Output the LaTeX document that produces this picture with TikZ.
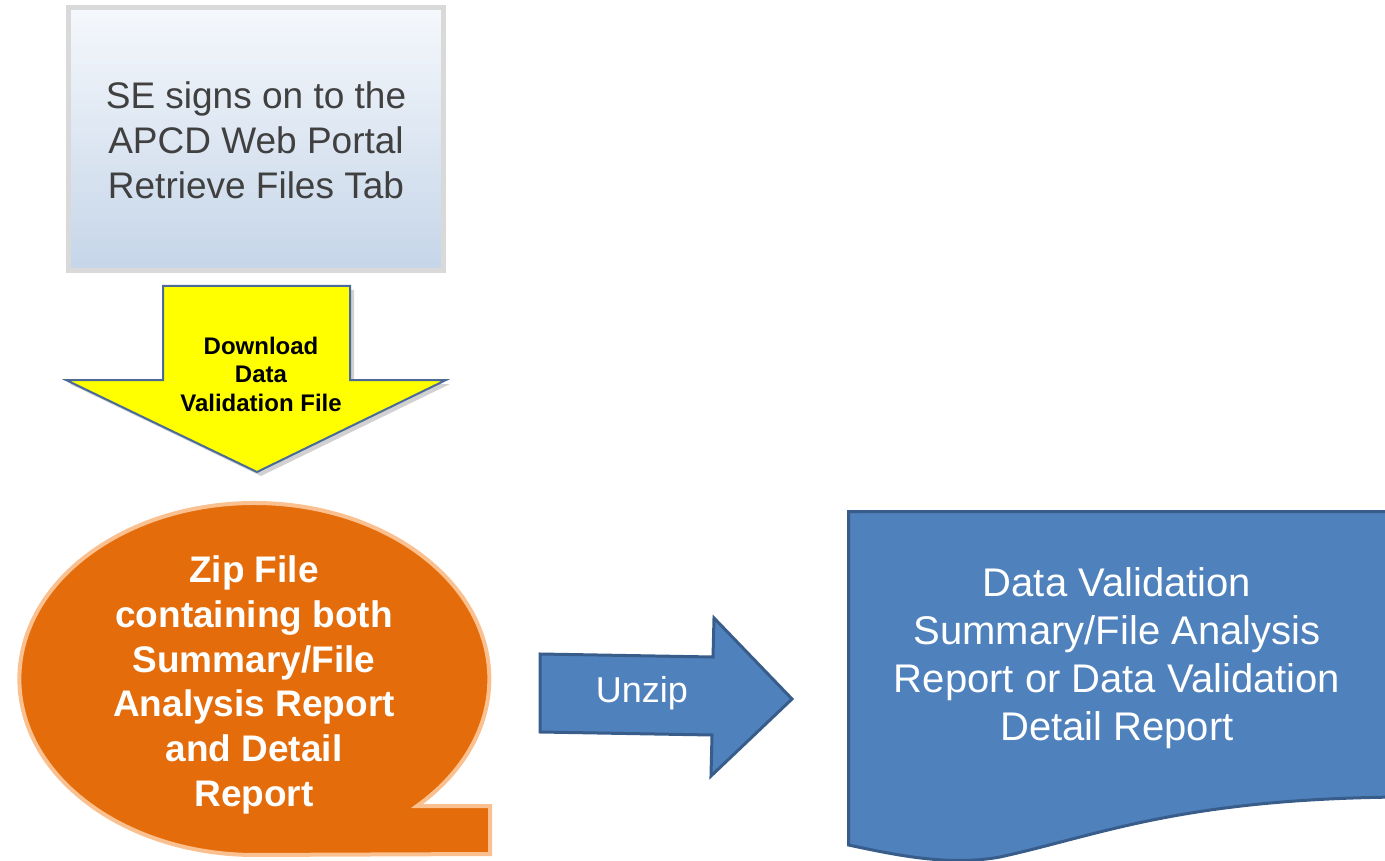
\documentclass[tikz,border=0pt]{standalone}
\usepackage{fontspec}
\setmainfont{Liberation Sans}
\definecolor{boxborder}{HTML}{D9D9D9}
\definecolor{boxtop}{HTML}{F5F8FC}
\definecolor{boxbot}{HTML}{C5D5E8}
\definecolor{textgray}{HTML}{404040}
\definecolor{yfill}{HTML}{FFFF00}
\definecolor{yborder}{HTML}{4A6A98}
\definecolor{zorange}{HTML}{E46C0A}
\definecolor{zborder}{HTML}{FAC08F}
\definecolor{docblue}{HTML}{4F81BD}
\definecolor{docborder}{HTML}{385D8A}
\begin{document}
\begin{tikzpicture}[x=1pt,y=-1pt,
  shadowstyle/.style={fill=black,opacity=0.18},
  label/.style={align=center,inner sep=0pt}]
\useasboundingbox (0,0) rectangle (1385,861);
\clip (0,0) rectangle (1385,861);
% top box
\draw[draw=boxborder,line width=5pt,top color=boxtop,bottom color=boxbot]
  (68.5,7.5) rectangle (443.5,270.5);
\node[label,text=textgray,font=\fontsize{37}{45}\selectfont] (se) at (256,140)
  {SE signs on to the\\APCD Web Portal\\Retrieve Files Tab};
% yellow arrow
\fill[shadowstyle] (167,290) -- (354,290) -- (354,384) -- (450,384) -- (261,476) -- (70,384) -- (167,384) -- cycle;
\draw[fill=yfill,draw=yborder,line width=2pt,line join=miter]
  (163,286) -- (350,286) -- (350,380) -- (446,380) -- (257,472) -- (66,380) -- (163,380) -- cycle;
\node[label,font=\bfseries\fontsize{24}{28.5}\selectfont] (dl) at (261,374)
  {Download\\Data\\Validation File};
% orange callout
\draw[fill=zorange,draw=zborder,line width=4pt,line join=miter]
  (417,806) arc[start angle=46.2,end angle=-270,x radius=235,y radius=176]
  -- (490,854) -- (490,806) -- cycle;
\node[label,text=white,font=\bfseries\fontsize{37}{44.8}\selectfont] (zip) at (254,685)
  {Zip File\\containing both\\Summary/File\\Analysis Report\\and Detail\\Report};
% blue arrow
\draw[fill=docblue,draw=docborder,line width=3pt,line join=miter]
  (540,654) -- (713,657) -- (714,618) -- (792,699) -- (711,776) -- (712,735) -- (540,732) -- cycle;
\node[label,text=white,font=\fontsize{36}{43}\selectfont] (unzip) at (642,693) {Unzip};
% document
\draw[fill=docblue,draw=docborder,line width=3pt,line join=miter]
  (848.5,511.5) -- (1400,511.5) -- (1400,797)
  .. controls (1180,799) and (1100,835) .. (1000,857)
  .. controls (950,866) and (900,856) .. (848.5,845) -- cycle;
\node[label,text=white,font=\fontsize{40}{48}\selectfont] (doc) at (1117,658)
  {Data Validation\\Summary/File Analysis\\Report or Data Validation\\Detail Report};
\end{tikzpicture}
\end{document}
